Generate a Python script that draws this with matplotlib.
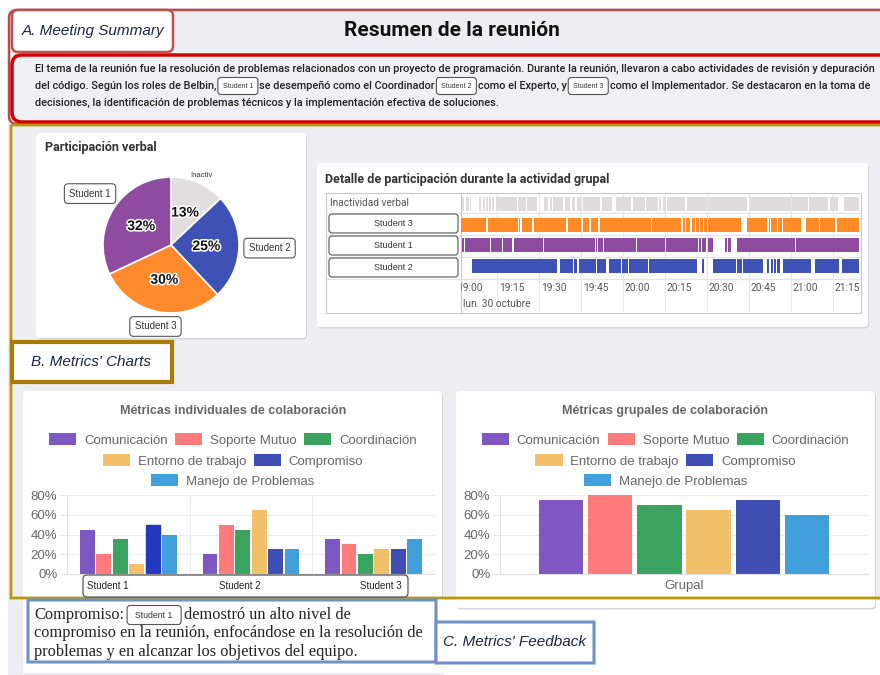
import numpy as np
import matplotlib
matplotlib.use("Agg")
import matplotlib.pyplot as plt
from matplotlib.patches import FancyBboxPatch, Rectangle, Patch
import matplotlib.patheffects as pe

plt.rcParams['font.family'] = ['Liberation Sans', 'DejaVu Sans']

# --- participación verbal (gráfico circular) ---
pie_labels = ["Inactiv", "Student 2", "Student 3", "Student 1"]
pie_values = [13, 25, 30, 32]
pie_colors = ["#e2dedd", "#3e51b4", "#ff8a2b", "#8e4ba0"]

# --- línea de tiempo: tramos (inicio, fin) en minutos desde las 19:00 ---
inactividad = [(2.4, 3.3), (3.8, 5.0), (5.4, 5.7), (8.6, 9.3), (9.8, 10.5), (11.0, 11.7),
               (12.1, 12.9), (13.3, 14.0), (14.5, 18.0), (18.3, 22.0), (22.3, 25.5), (25.8, 29.2),
               (31.9, 33.3), (33.9, 34.5), (35.1, 38.7), (39.3, 41.1), (41.7, 42.9), (43.5, 45.0),
               (45.8, 51.8), (52.4, 56.0), (57.4, 63.0), (63.4, 68.0), (68.3, 72.6), (72.9, 73.6),
               (74.4, 75.2), (75.6, 82.1), (82.7, 90.0), (90.3, 97.0), (97.3, 104.2), (105.4, 112.0),
               (112.3, 120.0), (120.3, 126.0), (126.3, 133.3), (133.9, 136.9), (139.0, 144.3)]
student3 = [(2.1, 11.0), (11.8, 22.4), (22.9, 23.3), (23.9, 27.4), (28.2, 39.5), (40.4, 44.9),
            (45.7, 47.8), (48.6, 51.0), (51.8, 61.0), (61.2, 70.0), (70.2, 80.6), (81.4, 82.0),
            (82.5, 83.8), (84.6, 85.6), (86.1, 87.0), (87.5, 88.5), (88.9, 89.9), (90.4, 96.0),
            (96.2, 102.1), (104.3, 111.3), (112.1, 112.4), (112.9, 114.9), (115.4, 116.7),
            (117.1, 123.6), (125.4, 130.0), (130.2, 135.6), (136.4, 144.3)]
student1 = [(2.4, 3.2), (3.6, 12.5), (12.9, 16.6), (17.0, 20.2), (21.0, 24.8), (25.0, 31.4),
            (31.8, 40.2), (40.5, 49.9), (50.3, 50.8), (51.1, 52.9), (53.2, 64.8), (65.1, 75.0),
            (75.2, 86.9), (87.3, 87.9), (88.1, 88.8), (89.0, 89.5), (90.5, 92.0), (96.4, 97.0),
            (97.5, 98.5), (100.6, 109.5), (109.8, 114.9), (115.1, 121.4), (121.7, 132.8), (133.0, 144.3)]
student2 = [(6.0, 21.7), (21.9, 26.3), (26.5, 36.3), (37.5, 42.2), (42.4, 43.7), (44.3, 47.8),
            (48.0, 50.5), (50.7, 53.9), (54.8, 59.4), (59.6, 61.8), (62.0, 64.2), (64.4, 66.6),
            (66.8, 68.9), (69.1, 71.3), (71.5, 76.0), (76.2, 81.0), (81.2, 86.3), (88.1, 88.9),
            (92.3, 98.9), (99.1, 100.5), (100.7, 102.5), (102.7, 105.3), (105.5, 110.1), (111.3, 112.3),
            (112.7, 113.6), (113.9, 114.8), (115.0, 116.1), (117.3, 127.1), (128.6, 130.2), (130.5, 132.0),
            (132.3, 133.8), (134.0, 135.6), (135.8, 137.3), (138.1, 139.2), (139.4, 141.0), (141.2, 142.8),
            (143.0, 144.3)]
tiempo_ticks = ["19:00", "19:15", "19:30", "19:45", "20:00", "20:15", "20:30", "20:45", "21:00", "21:15"]

# --- métricas de colaboración ---
metricas = ["Comunicación", "Soporte Mutuo", "Coordinación", "Entorno de trabajo", "Compromiso", "Manejo de Problemas"]
colores_metricas = ["#7e57c2", "#ff7b7b", "#3aa35f", "#f2c068", "#3f4eb3", "#41a0dc"]
estudiantes = ["Student 1", "Student 2", "Student 3"]
comunicacion = [45, 20, 35]
soporte = [20, 50, 30]
coordinacion = [35, 45, 20]
entorno = [10, 65, 25]
compromiso = [50, 25, 25]
manejo = [40, 25, 35]
grupal = [75, 80, 70, 65, 75, 60]

W, H = 880, 675
fig = plt.figure(figsize=(W / 100, H / 100), dpi=100)
fig.patch.set_facecolor("white")


def px_axes(x0, y0, x1, y1, z=1):
    return fig.add_axes([x0 / W, 1 - y1 / H, (x1 - x0) / W, (y1 - y0) / H], zorder=z)


def capa(z):
    ax = px_axes(0, 0, W, H, z)
    ax.set_xlim(0, W)
    ax.set_ylim(H, 0)
    ax.axis('off')
    return ax


bg = capa(0)
fg = capa(10)


def rbox(ax, x0, y0, x1, y1, fc='white', ec='none', lw=1, r=4, z=1):
    ax.add_patch(FancyBboxPatch((x0, y0), x1 - x0, y1 - y0, boxstyle=f"round,pad=0,rounding_size={r}",
                                fc=fc, ec=ec, lw=lw, zorder=z))


def tarjeta(x0, y0, x1, y1):
    rbox(bg, x0 + 1, y0 + 1.5, x1 + 1, y1 + 1.5, fc='#d5d6d9', r=4, z=1)
    rbox(bg, x0, y0, x1, y1, fc='white', r=4, z=2)


def chip(ax, x0, y0, x1, y1, txt, fs, z=3):
    rbox(ax, x0, y0, x1, y1, fc='white', ec='#555555', lw=0.8, r=3, z=z)
    ax.text((x0 + x1) / 2, (y0 + y1) / 2, txt, ha='center', va='center', fontsize=fs,
            color='#333333', zorder=z + 1)


ren = fig.canvas.get_renderer()


def linea(ax, x, y, partes, fs, chip_w, chip_h, chip_fs, gap=2.5, **kw):
    for p in partes:
        if isinstance(p, tuple):
            chip(ax, x, y - chip_h / 2, x + chip_w, y + chip_h / 2, p[0], chip_fs, z=5)
            x += chip_w + gap
        else:
            t = ax.text(x, y, p, fontsize=fs, va='center', ha='left', zorder=5, **kw)
            x += t.get_window_extent(ren).width + gap


# fondo de la página
bg.add_patch(Rectangle((8, 8), W - 8, H - 8, fc='#edeef1', zorder=0))
bg.add_patch(Rectangle((444, 600), W - 444, H - 600, fc='white', zorder=0.5))

# ---- A. resumen ----
rbox(bg, 9, 10, 890, 124, fc='none', ec='#bd4a4c', lw=1.8, r=8, z=3)
rbox(bg, 12, 10, 173, 52, fc='white', ec='#c0504d', lw=1.8, r=6, z=4)
bg.text(22, 31, "A. Meeting Summary", style='italic', fontsize=11, color='#1d2545', va='center', zorder=5)
bg.text(452, 31, "Resumen de la reunión", fontsize=15, weight='bold', ha='center', va='center',
        family=['Roboto', 'DejaVu Sans'], color='#111111', zorder=5)
rbox(bg, 12, 55, 890, 122, fc='#eef0f3', ec='#d40000', lw=2.5, r=10, z=3)

fam_res = ['Roboto', 'DejaVu Sans']
l1 = ("El tema de la reunión fue la resolución de problemas relacionados con un proyecto de programación. "
      "Durante la reunión, llevaron a cabo actividades de revisión y depuración")
tmp = bg.text(0, 0, l1, fontsize=8, family=fam_res, weight='medium')
fs_res = 8 * 833 / tmp.get_window_extent(ren).width
tmp.remove()
kw_res = dict(family=fam_res, weight='medium', color='#222222')
linea(bg, 35, 69, [l1], fs_res, 40, 17, 5, **kw_res)
linea(bg, 35, 86, ["del código. Según los roles de Belbin,", ("Student 1",), "se desempeñó como el Coordinador",
                   ("Student 2",), "como el Experto, y", ("Student 3",),
                   "como el Implementador. Se destacaron en la toma de"], fs_res, 40, 17, 5, gap=1.5, **kw_res)
linea(bg, 35, 103, ["decisiones, la identificación de problemas técnicos y la implementación efectiva de soluciones."],
      fs_res, 40, 17, 5, **kw_res)

# ---- participación verbal ----
tarjeta(36, 133, 306, 338)
bg.text(45, 147, "Participación verbal", fontsize=9, weight='bold', color='#333333', va='center',
        family=['Roboto', 'DejaVu Sans'], zorder=5)
pa = px_axes(103, 177, 239, 313, z=3)
wedges, _, autot = pa.pie(pie_values, colors=pie_colors, startangle=90, counterclock=False,
                          wedgeprops=dict(edgecolor='white', linewidth=1.2), autopct='%d%%', pctdistance=0.52,
                          textprops=dict(fontsize=10, weight='bold', color='#111111'))
for t in autot:
    t.set_path_effects([pe.withStroke(linewidth=2.2, foreground='white')])
pa.set_xlim(-1, 1)
pa.set_ylim(-1, 1)
dist_etq = [1.12, 1.45, 1.22, 1.41]
inicio = 0
for lab, v, d in zip(pie_labels, pie_values, dist_etq):
    ang = np.deg2rad(90 - (inicio + v / 2) / sum(pie_values) * 360)
    inicio += v
    if lab == "Inactiv":
        pa.text(d * np.cos(ang), d * np.sin(ang), lab, fontsize=5.5, color='#333333', ha='center', va='center')
    else:
        pa.text(d * np.cos(ang), d * np.sin(ang), lab, fontsize=7, color='#333333', ha='center', va='center',
                bbox=dict(boxstyle='round,pad=0.5,rounding_size=0.4', fc='white', ec='#555555', lw=0.8))

# ---- línea de tiempo ----
tarjeta(317, 163, 868, 327)
bg.text(325, 179, "Detalle de participación durante la actividad grupal", fontsize=9, weight='bold',
        color='#333333', va='center', family=['Roboto', 'DejaVu Sans'], zorder=5)
bg.add_patch(Rectangle((326, 193), 535, 120, fc='none', ec='#c8c8c8', lw=0.8, zorder=6))
bg.plot([461, 461], [193, 313], color='#c8c8c8', lw=0.8, zorder=6)
for yy in [213, 235, 257, 279]:
    bg.plot([326, 861], [yy, yy], color='#e3e3e3', lw=0.8, zorder=4)
bg.text(330, 203, "Inactividad verbal", fontsize=7.3, color='#555555', va='center',
        family=['Roboto', 'DejaVu Sans'], zorder=6)
for y0, nombre in zip([214, 236, 258], ["Student 3", "Student 1", "Student 2"]):
    chip(bg, 329, y0, 458, y0 + 19, nombre, 6.5, z=6)

tl = px_axes(461, 194, 859, 313, z=4)
tl.set_xlim(2.1, 144.3)
tl.set_ylim(119, 0)
tl.axis('off')
for i in range(len(tiempo_ticks)):
    tl.axvline(i * 15, color='#e6e6e6', lw=0.8, zorder=0)
filas = [(inactividad, 3, '#e0dcdc'), (student3, 23.5, '#ff8a26'), (student1, 44, '#8e4ba0'),
         (student2, 65, '#3e51b4')]
for tramos, y0, col in filas:
    tl.broken_barh([(s, e - s) for s, e in tramos], (y0, 14), facecolors=col, edgecolor='none', zorder=2)
for i, lab in enumerate(tiempo_ticks):
    tl.text(i * 15 + 0.6, 94, lab, fontsize=7.3, color='#555555', va='center', ha='left', clip_on=True,
            family=['Roboto', 'DejaVu Sans'])
tl.text(2.8, 110, "lun. 30 octubre", fontsize=7.3, color='#555555', va='center', ha='left',
        family=['Roboto', 'DejaVu Sans'])

# ---- métricas ----
tarjeta(23, 391, 442, 600)
tarjeta(456, 391, 875, 608)
bg.text(233, 411, "Métricas individuales de colaboración", fontsize=9, weight='bold', color='#666666',
        ha='center', va='center', zorder=5)
bg.text(665.5, 411, "Métricas grupales de colaboración", fontsize=9, weight='bold', color='#666666',
        ha='center', va='center', zorder=5)

handles = [Patch(fc=c, ec='none') for c in colores_metricas]
filas_ley = [[0, 1, 2], [3, 4], [5]]
for cx in [233, 665.5]:
    for fila, yy in zip(filas_ley, [440, 461, 481]):
        lg = fig.legend([handles[i] for i in fila], [metricas[i] for i in fila], loc='center',
                        bbox_to_anchor=(cx / W, 1 - yy / H), ncol=len(fila), frameon=False, fontsize=9.5,
                        handlelength=2.05, handleheight=1.0, handletextpad=0.6, columnspacing=0.55,
                        borderpad=0, borderaxespad=0)
        for t in lg.get_texts():
            t.set_color('#666666')


def estilo(ax, bordes):
    ax.set_ylim(0, 80)
    ticks = list(range(0, 81, 20))
    ax.set_yticks(ticks)
    ax.set_yticklabels([f"{v}%" for v in ticks])
    ax.tick_params(axis='y', length=5, color='#e5e5e5', labelsize=9.5, labelcolor='#666666', pad=2)
    ax.tick_params(axis='x', length=0, labelsize=9.5, labelcolor='#666666', pad=4)
    ax.grid(axis='y', color='#ececec', lw=0.8)
    ax.set_axisbelow(True)
    for s in ['top', 'right']:
        ax.spines[s].set_visible(False)
    for s in ['left', 'bottom']:
        ax.spines[s].set_color('#e0e0e0')
    for b in bordes:
        ax.axvline(b, color='#ececec', lw=0.8, zorder=0)
    ax.patch.set_alpha(0)


series = [comunicacion, soporte, coordinacion, entorno, compromiso, manejo]
slot = 0.8 / len(series)
a1 = px_axes(67, 495, 435, 574, z=3)
x = np.arange(len(estudiantes))
for i, (vals, c) in enumerate(zip(series, colores_metricas)):
    barras = a1.bar(x - 0.4 + (i + 0.5) * slot, vals, width=slot * 0.9, color=c)
    if i == 4:
        barras[0].set_color('#2438bf')
a1.set_xlim(-0.5, 2.5)
a1.set_xticks(x)
a1.set_xticklabels([])
estilo(a1, [0.5, 1.5, 2.5])

a2 = px_axes(500, 495, 868, 574, z=3)
for i, (v, c) in enumerate(zip(grupal, colores_metricas)):
    a2.bar(-0.4 + (i + 0.5) * slot, v, width=slot * 0.9, color=c)
a2.set_xlim(-0.5, 0.5)
a2.set_xticks([0])
a2.set_xticklabels(["Grupal"])
estilo(a2, [0.5])

rbox(fg, 83, 575, 408, 597, fc='white', ec='#555555', lw=0.9, r=4, z=3)
for xx, nombre in zip([107.5, 240, 381], estudiantes):
    fg.text(xx, 586, nombre, fontsize=7, color='#222222', ha='center', va='center', zorder=4)

# marco B
rbox(fg, 11, 125, 890, 598, fc='none', ec='#b8960e', lw=2, r=0, z=1)
rbox(fg, 12, 342, 172, 382, fc='white', ec='#a87c02', lw=3, r=0, z=2)
fg.text(31, 362, "B. Metrics' Charts", style='italic', fontsize=11, color='#1d2545', va='center', zorder=3)

# ---- C. retroalimentación ----
rbox(bg, 23, 599, 444, 673, fc='white', r=0, z=2)
fam_fb = ['Liberation Serif', 'DejaVu Serif']
linea(bg, 34, 615, ["Compromiso:", ("Student 1",), "demostró un alto nivel de"], 11.8, 54, 19, 6.3,
      gap=3, family=fam_fb, color='#222222')
linea(bg, 34, 633, ["compromiso en la reunión, enfocándose en la resolución de"], 11.8, 54, 19, 6.3,
      family=fam_fb, color='#222222')
linea(bg, 34, 651.5, ["problemas y en alcanzar los objetivos del equipo."], 11.8, 54, 19, 6.3,
      family=fam_fb, color='#222222')
rbox(fg, 28, 600, 436, 662, fc='none', ec='#7091c6', lw=2.2, r=0, z=2)
rbox(fg, 436, 622, 594, 663, fc='white', ec='#7091c6', lw=2.2, r=0, z=2)
fg.text(443, 642, "C. Metrics' Feedback", style='italic', fontsize=11, color='#1d2545', va='center', zorder=3)

fig.savefig("out.png", dpi=100)
